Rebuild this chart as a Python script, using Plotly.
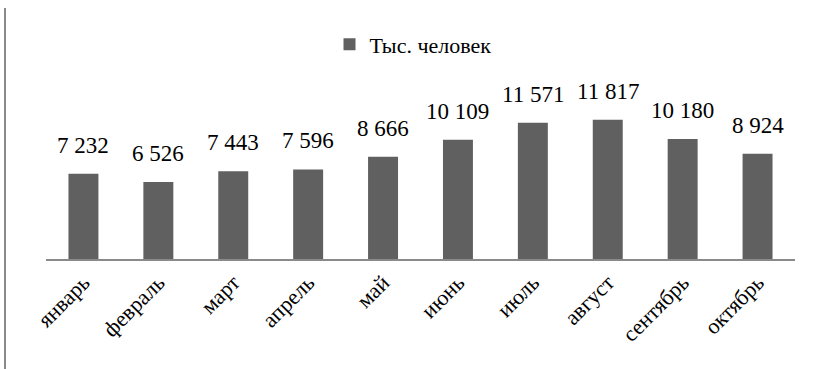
import plotly.graph_objects as go

months = ["январь", "февраль", "март", "апрель", "май", "июнь", "июль", "август", "сентябрь", "октябрь"]
values = [7232, 6526, 7443, 7596, 8666, 10109, 11571, 11817, 10180, 8924]
series_name = "Тыс. человек"

def fmt(v):
    return f"{v:,}".replace(",", " ")

FONT = "Liberation Serif"

fig = go.Figure()
fig.add_trace(go.Bar(
    x=months, y=values, name=series_name,
    marker=dict(color="#606060", line=dict(width=0)),
    showlegend=True,
))

for m, v in zip(months, values):
    fig.add_annotation(x=m, y=v, text=fmt(v), showarrow=False,
                       yanchor="bottom", yshift=14,
                       font=dict(family=FONT, size=23, color="#000000"))

# page border line on the left
fig.add_shape(type="line", xref="paper", yref="paper",
              x0=-41/749, x1=-41/749, y0=-110/165, y1=1 + 86/165,
              line=dict(color="#8a8a8a", width=2))

fig.update_layout(
    width=818, height=369,
    margin=dict(l=46, r=23, t=94, b=110),
    paper_bgcolor="white", plot_bgcolor="white",
    bargap=0.6,
    font=dict(family=FONT, size=22, color="#000000"),
    legend=dict(orientation="h", x=0.49, xanchor="center", y=1.30, yanchor="middle",
                font=dict(family=FONT, size=22, color="#000000"),
                itemwidth=30, bgcolor="rgba(0,0,0,0)"),
    xaxis=dict(showline=True, linecolor="#8a8a8a", linewidth=2, tickangle=-45,
               ticks="", showgrid=False, zeroline=False,
               tickfont=dict(family=FONT, size=22, color="#000000")),
    yaxis=dict(range=[0, 14000], visible=False, showgrid=False, zeroline=False),
)

fig.write_html("out.html", config={"displayModeBar": False},
               post_script="document.body.style.margin='0';document.body.style.padding='0';")
